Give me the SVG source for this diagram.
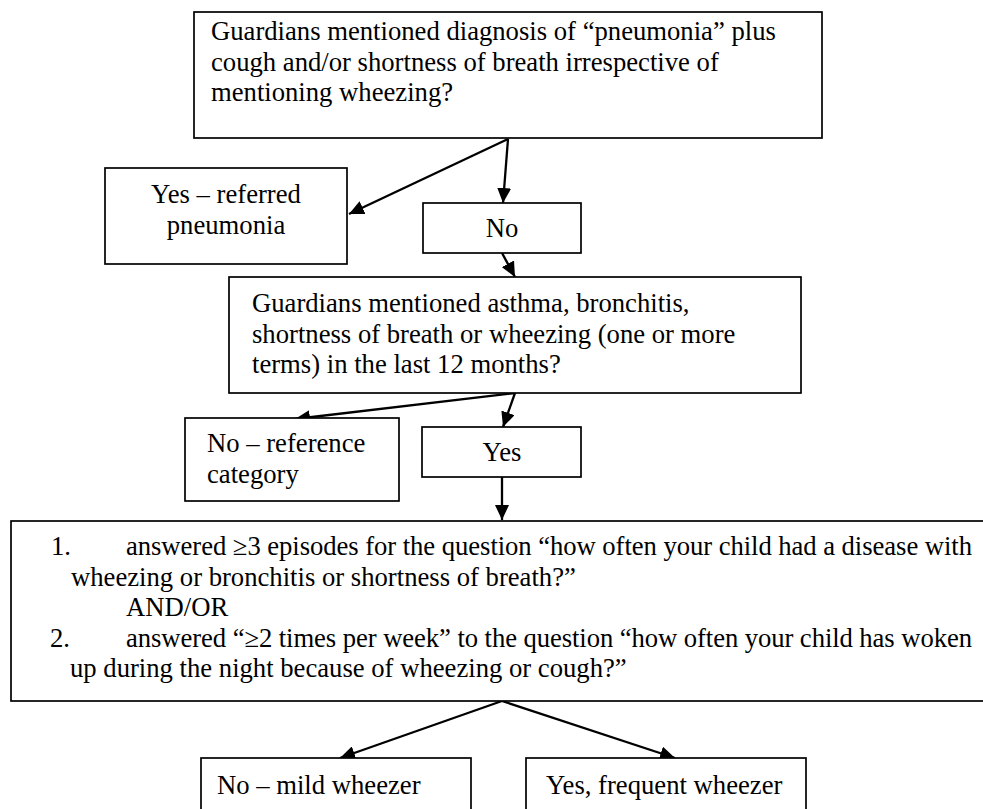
<svg xmlns="http://www.w3.org/2000/svg" width="983" height="809" viewBox="0 0 983 809">
  <style>
    .box { fill: #ffffff; stroke: #000000; stroke-width: 1.7; }
    .t { font-family: "Liberation Serif", "Times New Roman", "DejaVu Serif", serif; font-size: 26.67px; fill: #000000; }
    .c { text-anchor: middle; }
    .edge { stroke: #000000; stroke-width: 2.3; fill: none; marker-end: url(#arrow); }
  </style>
  <defs>
    <marker id="arrow" markerUnits="userSpaceOnUse" markerWidth="16" markerHeight="14" refX="15" refY="7" orient="auto">
      <path d="M0,0 L15,7 L0,14 Z" fill="#000000"/>
    </marker>
  </defs>
  <rect width="983" height="809" fill="#ffffff"/>

  <g id="connectors">
    <line class="edge" x1="508" y1="139" x2="349" y2="214"/>
    <line class="edge" x1="508" y1="139" x2="503" y2="203"/>
    <line class="edge" x1="502" y1="253" x2="515" y2="277"/>
    <line class="edge" x1="515" y1="393" x2="295" y2="419"/>
    <line class="edge" x1="515" y1="393" x2="503" y2="427"/>
    <line class="edge" x1="502" y1="477" x2="502" y2="520"/>
    <line class="edge" x1="502" y1="701" x2="340" y2="758"/>
    <line class="edge" x1="502" y1="701" x2="675" y2="758"/>
  </g>

  <g id="q1">
    <rect class="box" x="194" y="12" width="628" height="126"/>
    <text class="t" x="211" y="40">Guardians mentioned diagnosis of “pneumonia” plus</text>
    <text class="t" x="211" y="70.5">cough and/or shortness of breath irrespective of</text>
    <text class="t" x="211" y="101">mentioning wheezing?</text>
  </g>

  <g id="yes-pneumonia">
    <rect class="box" x="105" y="168" width="242" height="96"/>
    <text class="t c" x="226" y="203">Yes – referred</text>
    <text class="t c" x="226" y="233.5">pneumonia</text>
  </g>

  <g id="no1">
    <rect class="box" x="423" y="203" width="158" height="50"/>
    <text class="t c" x="502" y="237">No</text>
  </g>

  <g id="q2">
    <rect class="box" x="229" y="277" width="572" height="116"/>
    <text class="t" x="252" y="312">Guardians mentioned asthma, bronchitis,</text>
    <text class="t" x="252" y="342.5">shortness of breath or wheezing (one or more</text>
    <text class="t" x="252" y="373">terms) in the last 12 months?</text>
  </g>

  <g id="no-reference">
    <rect class="box" x="185" y="418" width="214" height="83"/>
    <text class="t" x="207" y="452">No – reference</text>
    <text class="t" x="207" y="482.5">category</text>
  </g>

  <g id="yes2">
    <rect class="box" x="422" y="427" width="159" height="50"/>
    <text class="t c" x="502" y="461">Yes</text>
  </g>

  <g id="q3">
    <rect class="box" x="11" y="521" width="990" height="180"/>
    <text class="t" x="51" y="555">1.</text>
    <text class="t" x="126" y="555" textLength="846" lengthAdjust="spacing">answered ≥3 episodes for the question “how often your child had a disease with</text>
    <text class="t" x="71" y="585.5">wheezing or bronchitis or shortness of breath?”</text>
    <text class="t" x="126" y="616">AND/OR</text>
    <text class="t" x="50" y="646.5">2.</text>
    <text class="t" x="126" y="646.5" textLength="846" lengthAdjust="spacing">answered “≥2 times per week” to the question “how often your child has woken</text>
    <text class="t" x="70" y="677">up during the night because of wheezing or cough?”</text>
  </g>

  <g id="mild">
    <rect class="box" x="201" y="758" width="270" height="60"/>
    <text class="t" x="217" y="794">No – mild wheezer</text>
  </g>

  <g id="frequent">
    <rect class="box" x="526" y="758" width="280" height="60"/>
    <text class="t" x="546" y="794">Yes, frequent wheezer</text>
  </g>
</svg>
